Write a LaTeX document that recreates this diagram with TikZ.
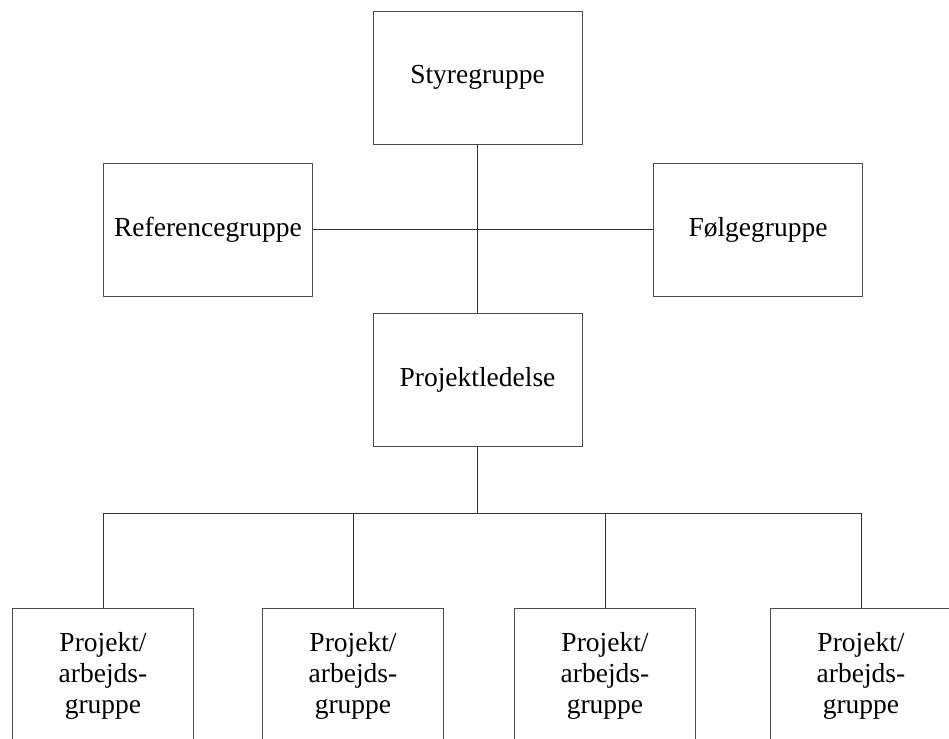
\documentclass[tikz,border=0pt]{standalone}
\usepackage{fontspec}
\setmainfont{Liberation Serif}
\begin{document}
\begin{tikzpicture}[x=1pt,y=-1pt,
  box/.style={draw=black!70,line width=0.9pt,minimum width=209pt,minimum height=133pt,inner sep=0pt,font=\fontsize{27.5}{31}\selectfont},
  gbox/.style={box,minimum width=181pt,minimum height=136pt,align=center},
  link/.style={draw=black!80,line width=0.8pt}]
\useasboundingbox (0,0) rectangle (949,738);
\clip (0,0) rectangle (949,738);
\node[box] (sty) at (477.5,77.5) {Styregruppe};
\node[box] (ref) at (208,229.5) {Referencegruppe};
\node[box] (folg) at (758,229.5) {Følgegruppe};
\node[box] (pl) at (477.5,380) {Projektledelse};
\node[gbox] (g1) at (103,676) {Projekt/\\arbejds-\\gruppe};
\node[gbox] (g2) at (353,676) {Projekt/\\arbejds-\\gruppe};
\node[gbox] (g3) at (605,676) {Projekt/\\arbejds-\\gruppe};
\node[gbox] (g4) at (861,676) {Projekt/\\arbejds-\\gruppe};
\coordinate (bus) at (0,513);
\draw[link] (sty.south) -- (pl.north);
\draw[link] (ref.east) -- (folg.west);
\draw[link] (pl.south) -- (pl.south |- bus);
\draw[link] (g1.north |- bus) -- (g4.north |- bus);
\foreach \g in {g1,g2,g3,g4} \draw[link] (\g.north) -- (\g.north |- bus);
\end{tikzpicture}
\end{document}
